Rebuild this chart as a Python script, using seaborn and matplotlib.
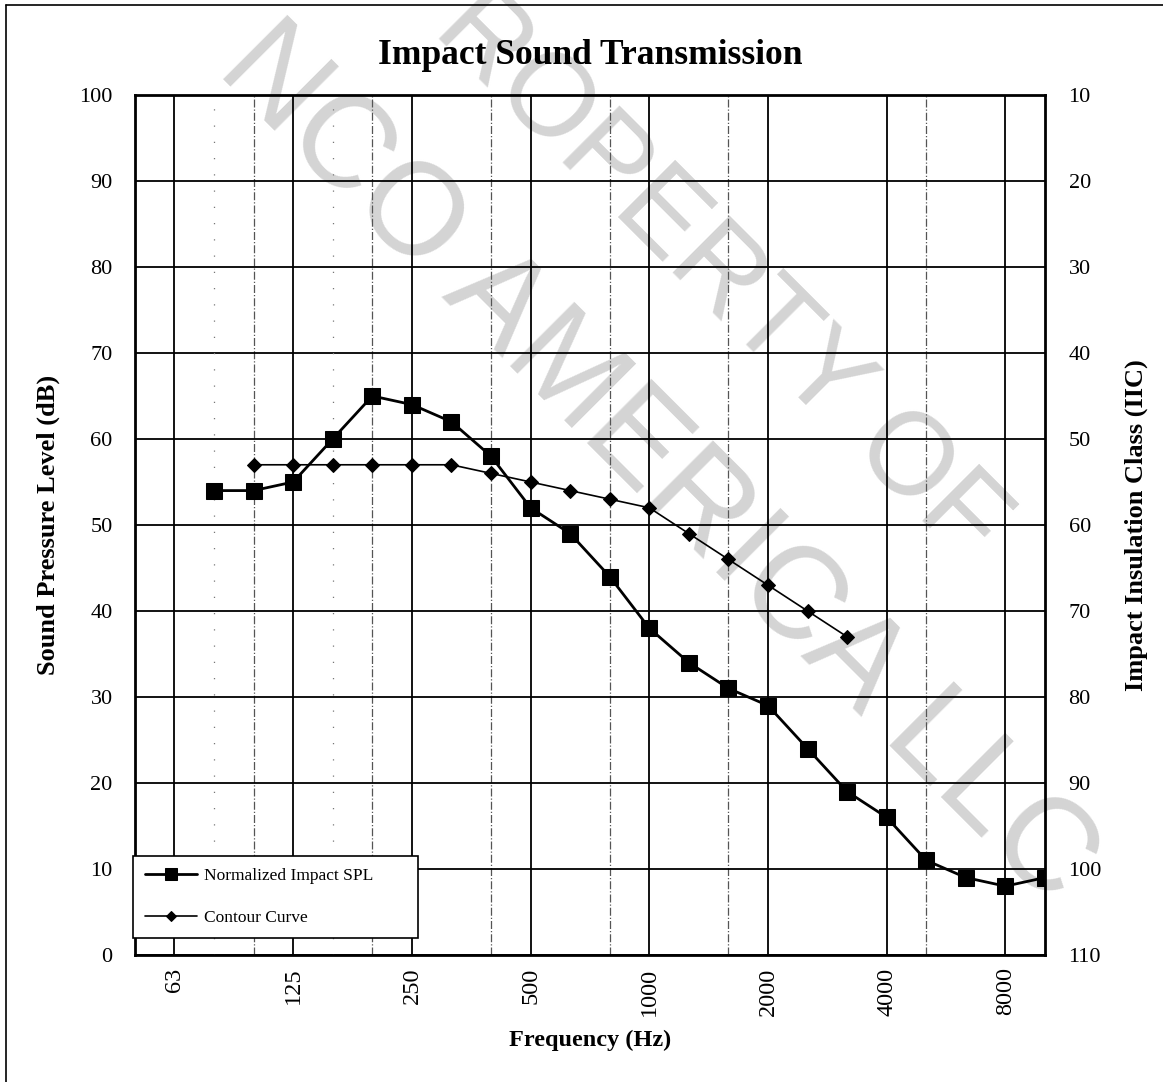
import matplotlib
matplotlib.use("Agg")
import matplotlib.pyplot as plt
import pandas as pd
import seaborn as sns
from matplotlib.lines import Line2D

# third-octave bands shown on the x axis (50 Hz .. 10 kHz)
bands = ["50", "63", "80", "100", "125", "160", "200", "250", "315", "400", "500",
         "630", "800", "1000", "1250", "1600", "2000", "2500", "3150", "4000",
         "5000", "6300", "8000", "10000"]

spl_bands = ["80", "100", "125", "160", "200", "250", "315", "400", "500", "630",
             "800", "1000", "1250", "1600", "2000", "2500", "3150", "4000", "5000",
             "6300", "8000", "10000"]
spl_values = [54, 54, 55, 60, 65, 64, 62, 58, 52, 49, 44, 38, 34, 31, 29, 24, 19,
              16, 11, 9, 8, 9]

contour_bands = ["100", "125", "160", "200", "250", "315", "400", "500", "630",
                 "800", "1000", "1250", "1600", "2000", "2500", "3150"]
contour_values = [57, 57, 57, 57, 57, 57, 56, 55, 54, 53, 52, 49, 46, 43, 40, 37]

tick_labels = ["63", "125", "250", "500", "1000", "2000", "4000", "8000"]
dashdot_bands = ["100", "200", "400", "800", "1600", "5000"]
dotted_bands = ["80", "160"]

left_ticks = list(range(0, 101, 10))
right_ticks = list(range(10, 111, 10))

sns.set_theme(style="white")
plt.rcParams["font.family"] = ["Liberation Serif", "DejaVu Serif"]
plt.rcParams["text.color"] = "black"
plt.rcParams["axes.labelcolor"] = "black"
plt.rcParams["xtick.color"] = "black"
plt.rcParams["ytick.color"] = "black"

spl_df = pd.DataFrame({"x": [bands.index(b) for b in spl_bands], "y": spl_values})
contour_df = pd.DataFrame({"x": [bands.index(b) for b in contour_bands], "y": contour_values})

fig = plt.figure(figsize=(11.63, 10.82), dpi=100)
ax = fig.add_axes([0.116, 0.1174, 0.7825, 0.7948])

# watermark
fig.text(0.595, 0.77, "PROPERTY OF", fontsize=84, color="#d4d4d4",
         family="Liberation Sans", rotation=-45, ha="center", va="center",
         rotation_mode="anchor", zorder=0.5)
fig.text(0.565, 0.57, "NCO AMERICA LLC", fontsize=94, color="#d4d4d4",
         family="Liberation Sans", rotation=-45, ha="center", va="center",
         rotation_mode="anchor", zorder=0.5)
ax.set_zorder(1)
ax.patch.set_alpha(0)

sns.lineplot(data=spl_df, x="x", y="y", ax=ax, color="black", linewidth=2,
             marker="s", markersize=11, markeredgecolor="black",
             label="Normalized Impact SPL", zorder=5)
sns.lineplot(data=contour_df, x="x", y="y", ax=ax, color="black", linewidth=1.2,
             marker="D", markersize=7, markeredgecolor="black",
             label="Contour Curve", zorder=5)

ax.set_xlim(0, len(bands) - 1)
ax.set_ylim(0, 100)
ax.set_yticks(left_ticks)
ax.set_xticks([bands.index(t) for t in tick_labels])
ax.set_xticklabels(tick_labels, rotation=90)
ax.set_xticks([bands.index(b) for b in dashdot_bands], minor=True)
ax.tick_params(axis="both", which="both", length=0)
ax.tick_params(axis="y", labelsize=16, pad=16)
ax.tick_params(axis="x", labelsize=17.5, pad=9)

ax.grid(True, which="major", color="black", linewidth=1.3)
ax.grid(True, which="minor", axis="x", color="#555555", linewidth=0.9, linestyle="-.")
for b in dotted_bands:
    ax.axvline(bands.index(b), color="#777777", linewidth=0.9, linestyle=(0, (1, 12)))
for sp in ax.spines.values():
    sp.set_color("black")
    sp.set_linewidth(2)

ax.set_xlabel("Frequency (Hz)", fontsize=17.5, fontweight="bold", labelpad=10)
ax.set_ylabel("Sound Pressure Level (dB)", fontsize=19, fontweight="bold", labelpad=14)
ax.set_title("Impact Sound Transmission", fontsize=25.5, fontweight="bold", pad=22)

ax2 = ax.twinx()
ax2.set_ylim(110, 10)
ax2.set_yticks(right_ticks)
ax2.tick_params(axis="y", length=0, labelsize=16, pad=17)
ax2.set_ylabel("Impact Insulation Class (IIC)", fontsize=19, fontweight="bold", labelpad=16)
for sp in ax2.spines.values():
    sp.set_visible(False)

leg = ax.legend(loc="lower left", bbox_to_anchor=(-0.002, 0.02, 0.313, 0.09),
                mode="expand", fontsize=12.5,
                frameon=True, fancybox=False, edgecolor="black", framealpha=1,
                handlelength=3.0, labelspacing=1.45, borderpad=0.7,
                borderaxespad=0, handletextpad=0.4)
leg.get_frame().set_linewidth(1.2)
for h in leg.legend_handles:
    h.set_markersize(h.get_markersize() * 0.8)

# page border
fig.add_artist(Line2D([0.005, 0.005], [0, 0.995], color="black", linewidth=1.2))
fig.add_artist(Line2D([0.005, 1.0], [0.995, 0.995], color="black", linewidth=1.2))

fig.savefig("out.png", dpi=100)
